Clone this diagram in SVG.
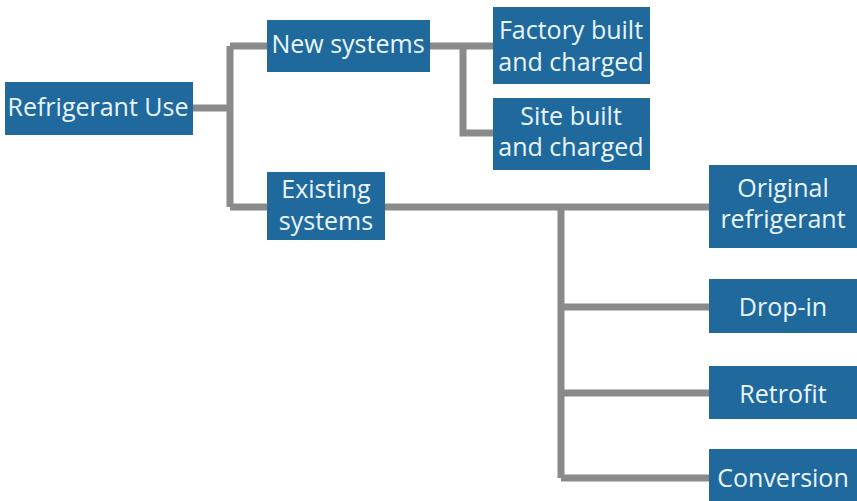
<svg xmlns="http://www.w3.org/2000/svg" width="857" height="501" viewBox="0 0 857 501">
<style>
.box{fill:#1f699d}
.t{font-family:"Open Sans","Noto Sans",sans-serif;font-size:25px;fill:#eaf5ff;text-anchor:middle}
.c{fill:none;stroke:#8a8a8a;stroke-width:7}
</style>
<rect width="857" height="501" fill="#fff"/>
<g id="connectors">
<path class="c" d="M193 108H230M230 46V207M230 46H267M230 207H267"/>
<path class="c" d="M430 46H493M463 46V133H493"/>
<path class="c" d="M385 207H709M561 207V478M561 307H709M561 393H709M561 478H709"/>
</g>
<g id="refrigerant-use"><rect class="box" x="5" y="82" width="188" height="53"/><text class="t" x="98" y="116">Refrigerant Use</text></g>
<g id="new-systems"><rect class="box" x="267" y="20" width="163" height="52"/><text class="t" x="348" y="53">New systems</text></g>
<g id="existing-systems"><rect class="box" x="267" y="172" width="118" height="68"/><text class="t" x="326" y="198">Existing</text><text class="t" x="326" y="230">systems</text></g>
<g id="factory-built"><rect class="box" x="493" y="7" width="157" height="77"/><text class="t" x="571" y="39">Factory built</text><text class="t" x="571" y="71">and charged</text></g>
<g id="site-built"><rect class="box" x="493" y="98" width="157" height="72"/><text class="t" x="571" y="125">Site built</text><text class="t" x="571" y="156">and charged</text></g>
<g id="original-refrigerant"><rect class="box" x="709" y="165" width="148" height="83"/><text class="t" x="783" y="197">Original</text><text class="t" x="783" y="228">refrigerant</text></g>
<g id="drop-in"><rect class="box" x="709" y="279" width="148" height="54"/><text class="t" x="783" y="316">Drop-in</text></g>
<g id="retrofit"><rect class="box" x="709" y="366" width="148" height="53"/><text class="t" x="783" y="403">Retrofit</text></g>
<g id="conversion"><rect class="box" x="709" y="449" width="148" height="52"/><text class="t" x="783" y="487">Conversion</text></g>
</svg>
